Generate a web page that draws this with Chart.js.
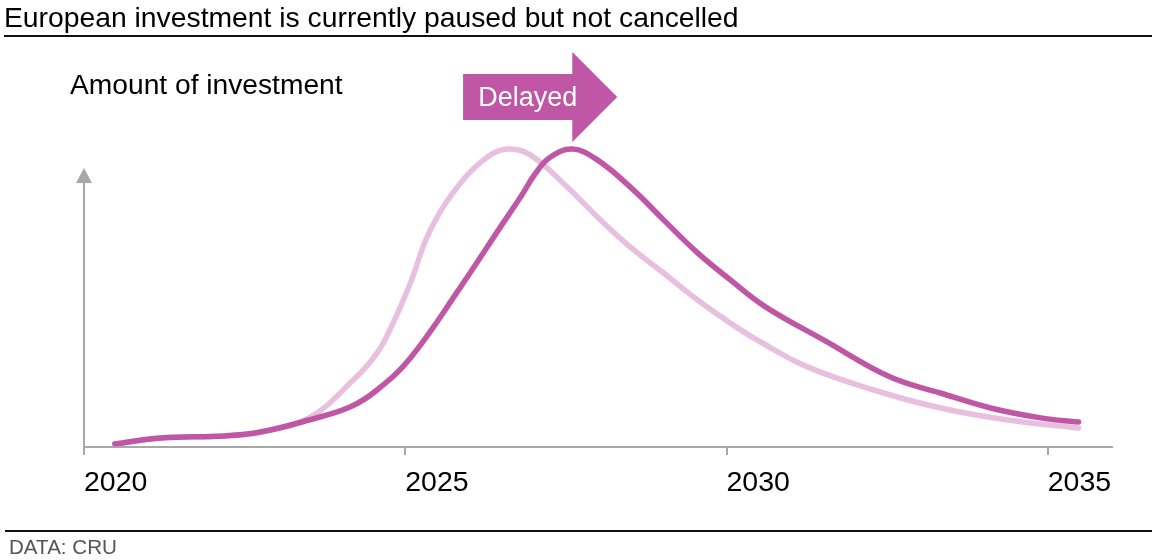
<!DOCTYPE html>
<html>
<head>
<meta charset="utf-8">
<script src="https://cdn.jsdelivr.net/npm/chart.js@4"></script>
<style>
  html, body { margin: 0; padding: 0; background: #fff; }
  #wrap { position: relative; width: 1157px; height: 560px; }
  canvas { display: block; }
</style>
</head>
<body>
<div id="wrap"><canvas id="c" width="1157" height="560"></canvas></div>
<script>
// ---- data ----
const tickYears = [2020, 2025, 2030, 2035];

const delayedYears = [2020.48, 2021.2, 2022.2, 2022.75, 2023.5, 2024.14, 2024.56, 2025.08, 2025.86, 2026.48,
  2026.8, 2027.02, 2027.25, 2027.6, 2027.99, 2028.55, 2029.02, 2029.55, 2030.06, 2030.6,
  2031.51, 2032.55, 2033.33, 2034.11, 2034.89, 2035.48];
const delayedValues = [1.0, 3.0, 3.7, 5.0, 9.0, 13.3, 19.0, 29.7, 53.3, 73.3,
  83.5, 91.0, 96.5, 99.3, 95.7, 85.7, 75.7, 64.7, 55.7, 46.8,
  35.7, 23.3, 18.0, 13.0, 9.7, 8.3];

const originalYears = [2020.48, 2021.2, 2022.2, 2022.75, 2023.5, 2024.19, 2024.56, 2024.81, 2025.08, 2025.39,
  2025.86, 2026.28, 2026.6, 2026.95, 2027.52, 2027.99, 2028.5, 2029.02, 2029.55, 2030.06,
  2030.53, 2031.26, 2032.29, 2033.33, 2034.38, 2035.48];
const originalValues = [1.0, 3.0, 3.7, 5.0, 9.7, 22.3, 31.3, 41.3, 54.7, 72.3,
  88.0, 96.7, 99.3, 97.3, 86.7, 76.7, 66.7, 58.0, 49.0, 41.3,
  35.0, 26.7, 19.0, 13.0, 9.0, 6.3];

const titleText = "European investment is currently paused but not cancelled";
const axisLabel = "Amount of investment";
const arrowLabel = "Delayed";
const sourceText = "DATA: CRU";
const arrowFrom = 2025.9, arrowHeadBase = 2027.6, arrowTip = 2028.3;

const FONT = "'Liberation Sans', Arial, Helvetica, sans-serif";
const DARK = '#c057a6';
const LIGHT = '#e8bfde';
const AXIS = '#a8a8a8';

const toPts = (xs, ys) => xs.map((x, i) => ({ x: x, y: ys[i] }));

const decor = {
  id: 'decor',
  afterDraw(chart) {
    const ctx = chart.ctx;
    const xs = chart.scales.x, ys = chart.scales.y;
    const W = chart.width;
    ctx.save();
    // title
    ctx.fillStyle = '#000';
    ctx.font = '28.3px ' + FONT;
    ctx.textBaseline = 'alphabetic';
    ctx.textAlign = 'left';
    ctx.fillText(titleText, 4, 27);
    // rules
    ctx.fillStyle = '#111';
    ctx.fillRect(4, 35, W - 9, 2);
    ctx.fillRect(5, 530, W - 10, 2);
    // source
    ctx.fillStyle = '#555';
    ctx.font = '20.6px ' + FONT;
    ctx.fillText(sourceText, 9, 554);
    // axis label
    ctx.fillStyle = '#000';
    ctx.font = '28.2px ' + FONT;
    ctx.fillText(axisLabel, 70, 94);
    // y axis with arrow
    const ax = chart.chartArea.left;
    const yTip = ys.getPixelForValue(93);
    ctx.fillStyle = AXIS;
    ctx.fillRect(ax - 1, yTip + 12, 2, chart.chartArea.bottom - yTip - 12);
    ctx.beginPath();
    ctx.moveTo(ax, yTip);
    ctx.lineTo(ax + 8, yTip + 15);
    ctx.lineTo(ax - 8, yTip + 15);
    ctx.closePath();
    ctx.fill();
    // Delayed arrow
    const x0 = xs.getPixelForValue(arrowFrom);
    const x1 = xs.getPixelForValue(arrowHeadBase);
    const x2 = xs.getPixelForValue(arrowTip);
    ctx.fillStyle = DARK;
    ctx.beginPath();
    ctx.moveTo(x0, 74);
    ctx.lineTo(x1, 74);
    ctx.lineTo(x1, 52);
    ctx.lineTo(x2, 97);
    ctx.lineTo(x1, 142);
    ctx.lineTo(x1, 120);
    ctx.lineTo(x0, 120);
    ctx.closePath();
    ctx.fill();
    ctx.fillStyle = '#fff';
    ctx.font = '27px ' + FONT;
    ctx.textAlign = 'center';
    ctx.fillText(arrowLabel, (x0 + x1) / 2 + 10, 106);
    ctx.restore();
  }
};

new Chart(document.getElementById('c'), {
  type: 'line',
  data: {
    datasets: [
      { label: 'Delayed', data: toPts(delayedYears, delayedValues), borderColor: DARK, borderWidth: 5.5,
        pointRadius: 0, tension: 0.4, borderCapStyle: 'round', borderJoinStyle: 'round', fill: false, clip: false },
      { label: 'Original', data: toPts(originalYears, originalValues), borderColor: LIGHT, borderWidth: 5.5,
        pointRadius: 0, tension: 0.4, borderCapStyle: 'round', borderJoinStyle: 'round', fill: false, clip: false }
    ]
  },
  options: {
    responsive: false,
    animation: false,
    events: [],
    layout: { padding: { left: 84, right: 45, top: 147, bottom: 53 } },
    scales: {
      x: {
        type: 'linear', min: 2020, max: 2036,
        afterBuildTicks: (s) => { s.ticks = tickYears.map(v => ({ value: v })); },
        afterFit: (s) => { s.height = 60; },
        ticks: { align: 'start', color: '#000', font: { size: 28.5, family: FONT }, padding: 11, maxRotation: 0,
          callback: (v) => String(v) },
        grid: { drawOnChartArea: false, drawTicks: true, tickLength: 8, color: AXIS, lineWidth: 2 },
        border: { display: true, color: AXIS, width: 2 }
      },
      y: { display: false, min: 0, max: 100 }
    },
    plugins: { legend: { display: false }, tooltip: { enabled: false }, title: { display: false } }
  },
  plugins: [decor]
});
</script>
</body>
</html>
